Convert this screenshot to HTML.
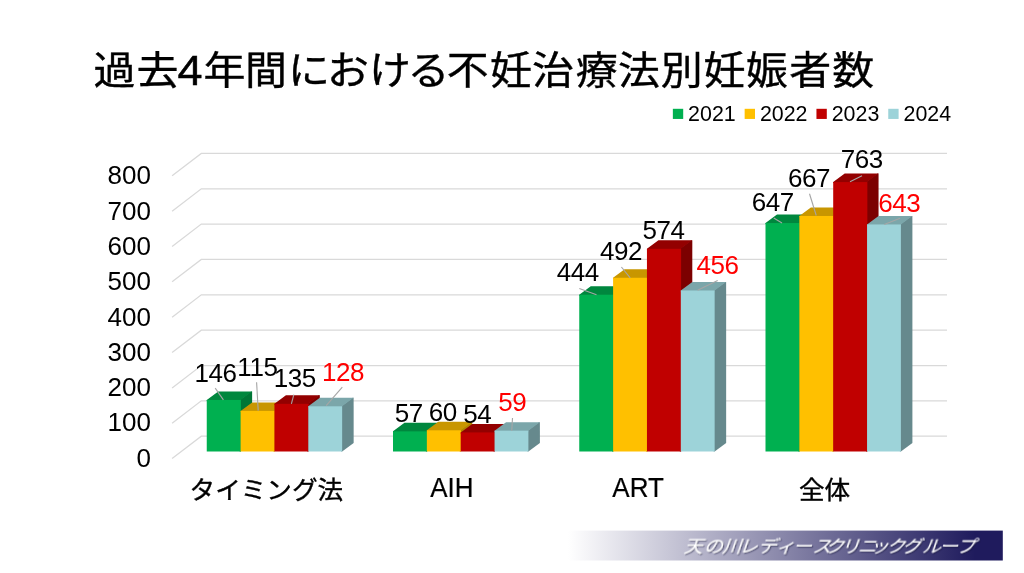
<!DOCTYPE html><html lang="ja"><head><meta charset="utf-8"><title>過去4年間における不妊治療法別妊娠者数</title>
<style>html,body{margin:0;padding:0;background:#fff}body{width:1024px;height:573px;overflow:hidden;position:relative;font-family:"Liberation Sans","Noto Sans CJK JP",sans-serif}svg{position:absolute;left:0;top:0;display:block}text{font-family:"Liberation Sans","Noto Sans CJK JP",sans-serif}</style></head><body>
<svg width="1024" height="573" viewBox="0 0 1024 573">
<defs><linearGradient id="bg" gradientUnits="userSpaceOnUse" x1="568" y1="0" x2="975" y2="0"><stop offset="0" stop-color="#ffffff"/><stop offset="1" stop-color="#1f1b5d"/></linearGradient><filter id="sh" x="-5%" y="-20%" width="110%" height="150%"><feDropShadow dx="1.2" dy="1.3" stdDeviation="0.5" flood-color="#15153a" flood-opacity="0.55"/></filter></defs>
<rect width="1024" height="573" fill="#fff"/>
<text transform="translate(0,84.4) scale(1,0.93)" y="0" font-size="42" fill="#000" stroke="#000" stroke-width="0.4"><tspan x="93.6 136.6">過去</tspan><tspan x="177.6" y="0.2" font-size="45" stroke-width="0.5">4</tspan><tspan x="203.4 245.1 287.9 327.0 368.9 407.5 446.7 490.0 532.0 575.7 618.0 660.8 703.6 746.0 789.2 832.3" y="0">年間における不妊治療法別妊娠者数</tspan></text>
<rect x="672.85" y="108.8" width="10.35" height="10.15" fill="#00B050"/>
<text x="688.10" y="120.7" font-size="21.4" fill="#000">2021</text>
<rect x="744.65" y="108.8" width="10.35" height="10.15" fill="#FFC000"/>
<text x="759.90" y="120.7" font-size="21.4" fill="#000">2022</text>
<rect x="816.45" y="108.8" width="10.35" height="10.15" fill="#C00000"/>
<text x="831.70" y="120.7" font-size="21.4" fill="#000">2023</text>
<rect x="888.25" y="108.8" width="10.35" height="10.15" fill="#9DD3D9"/>
<text x="903.50" y="120.7" font-size="21.4" fill="#000">2024</text>
<path d="M172.1 458.60L201.3 436.20H947M172.1 423.25L201.3 400.85H947M172.1 387.90L201.3 365.50H947M172.1 352.55L201.3 330.15H947M172.1 317.20L201.3 294.80H947M172.1 281.85L201.3 259.45H947M172.1 246.50L201.3 224.10H947M172.1 211.15L201.3 188.75H947M172.1 175.80L201.3 153.40H947" fill="none" stroke="#D9D9D9" stroke-width="1.25"/>
<text x="150.9" y="466.70" font-size="26" text-anchor="end" fill="#000">0</text>
<text x="150.9" y="431.42" font-size="26" text-anchor="end" fill="#000">100</text>
<text x="150.9" y="396.14" font-size="26" text-anchor="end" fill="#000">200</text>
<text x="150.9" y="360.86" font-size="26" text-anchor="end" fill="#000">300</text>
<text x="150.9" y="325.58" font-size="26" text-anchor="end" fill="#000">400</text>
<text x="150.9" y="290.30" font-size="26" text-anchor="end" fill="#000">500</text>
<text x="150.9" y="255.02" font-size="26" text-anchor="end" fill="#000">600</text>
<text x="150.9" y="219.74" font-size="26" text-anchor="end" fill="#000">700</text>
<text x="150.9" y="184.46" font-size="26" text-anchor="end" fill="#000">800</text>
<path d="M239.60 451.5H240.60L252.10 443.00V391.45H251.10L239.60 399.95Z" fill="#007636"/>
<path d="M206.75 400.95V399.95L218.25 391.45H252.10L240.60 399.95V400.95Z" fill="#00873E"/>
<rect x="206.75" y="399.95" width="34.15" height="51.55" fill="#00B050"/>
<path d="M273.45 451.5H274.45L285.95 443.00V402.39H284.95L273.45 410.89Z" fill="#B08400"/>
<path d="M240.60 411.89V410.89L252.10 402.39H285.95L274.45 410.89V411.89Z" fill="#C89600"/>
<rect x="240.60" y="410.89" width="34.15" height="40.61" fill="#FFC000"/>
<path d="M307.30 451.5H308.30L319.80 443.00V395.33H318.80L307.30 403.83Z" fill="#7C0000"/>
<path d="M274.45 404.83V403.83L285.95 395.33H319.80L308.30 403.83V404.83Z" fill="#930000"/>
<rect x="274.45" y="403.83" width="34.15" height="47.67" fill="#C00000"/>
<path d="M341.15 451.5H342.15L353.65 443.00V397.80H352.65L341.15 406.30Z" fill="#66898D"/>
<path d="M308.30 407.30V406.30L319.80 397.80H353.65L342.15 406.30V407.30Z" fill="#7BA6AA"/>
<rect x="308.30" y="406.30" width="33.85" height="45.20" fill="#9DD3D9"/>
<path d="M425.85 451.5H426.85L438.35 443.00V422.87H437.35L425.85 431.37Z" fill="#007636"/>
<path d="M393.00 432.37V431.37L404.50 422.87H438.35L426.85 431.37V432.37Z" fill="#00873E"/>
<rect x="393.00" y="431.37" width="34.15" height="20.13" fill="#00B050"/>
<path d="M459.70 451.5H460.70L472.20 443.00V421.81H471.20L459.70 430.31Z" fill="#B08400"/>
<path d="M426.85 431.31V430.31L438.35 421.81H472.20L460.70 430.31V431.31Z" fill="#C89600"/>
<rect x="426.85" y="430.31" width="34.15" height="21.19" fill="#FFC000"/>
<path d="M493.55 451.5H494.55L506.05 443.00V423.93H505.05L493.55 432.43Z" fill="#7C0000"/>
<path d="M460.70 433.43V432.43L472.20 423.93H506.05L494.55 432.43V433.43Z" fill="#930000"/>
<rect x="460.70" y="432.43" width="34.15" height="19.07" fill="#C00000"/>
<path d="M527.40 451.5H528.40L539.90 443.00V422.17H538.90L527.40 430.67Z" fill="#66898D"/>
<path d="M494.55 431.67V430.67L506.05 422.17H539.90L528.40 430.67V431.67Z" fill="#7BA6AA"/>
<rect x="494.55" y="430.67" width="33.85" height="20.83" fill="#9DD3D9"/>
<path d="M612.10 451.5H613.10L624.60 443.00V286.22H623.60L612.10 294.72Z" fill="#007636"/>
<path d="M579.25 295.72V294.72L590.75 286.22H624.60L613.10 294.72V295.72Z" fill="#00873E"/>
<rect x="579.25" y="294.72" width="34.15" height="156.78" fill="#00B050"/>
<path d="M645.95 451.5H646.95L658.45 443.00V269.27H657.45L645.95 277.77Z" fill="#B08400"/>
<path d="M613.10 278.77V277.77L624.60 269.27H658.45L646.95 277.77V278.77Z" fill="#C89600"/>
<rect x="613.10" y="277.77" width="34.15" height="173.73" fill="#FFC000"/>
<path d="M679.80 451.5H680.80L692.30 443.00V240.32H691.30L679.80 248.82Z" fill="#7C0000"/>
<path d="M646.95 249.82V248.82L658.45 240.32H692.30L680.80 248.82V249.82Z" fill="#930000"/>
<rect x="646.95" y="248.82" width="34.15" height="202.68" fill="#C00000"/>
<path d="M713.65 451.5H714.65L726.15 443.00V281.99H725.15L713.65 290.49Z" fill="#66898D"/>
<path d="M680.80 291.49V290.49L692.30 281.99H726.15L714.65 290.49V291.49Z" fill="#7BA6AA"/>
<rect x="680.80" y="290.49" width="33.85" height="161.01" fill="#9DD3D9"/>
<path d="M798.35 451.5H799.35L810.85 443.00V214.54H809.85L798.35 223.04Z" fill="#007636"/>
<path d="M765.50 224.04V223.04L777.00 214.54H810.85L799.35 223.04V224.04Z" fill="#00873E"/>
<rect x="765.50" y="223.04" width="34.15" height="228.46" fill="#00B050"/>
<path d="M832.20 451.5H833.20L844.70 443.00V207.48H843.70L832.20 215.98Z" fill="#B08400"/>
<path d="M799.35 216.98V215.98L810.85 207.48H844.70L833.20 215.98V216.98Z" fill="#C89600"/>
<rect x="799.35" y="215.98" width="34.15" height="235.52" fill="#FFC000"/>
<path d="M866.05 451.5H867.05L878.55 443.00V173.58H877.55L866.05 182.08Z" fill="#7C0000"/>
<path d="M833.20 183.08V182.08L844.70 173.58H878.55L867.05 182.08V183.08Z" fill="#930000"/>
<rect x="833.20" y="182.08" width="34.15" height="269.42" fill="#C00000"/>
<path d="M899.90 451.5H900.90L912.40 443.00V215.96H911.40L899.90 224.46Z" fill="#66898D"/>
<path d="M867.05 225.46V224.46L878.55 215.96H912.40L900.90 224.46V225.46Z" fill="#7BA6AA"/>
<rect x="867.05" y="224.46" width="33.85" height="227.04" fill="#9DD3D9"/>
<line x1="215.2" y1="388.1" x2="223.4" y2="399.9" stroke="#A6A6A6" stroke-width="1.1"/>
<line x1="256.6" y1="382.3" x2="258.2" y2="410.6" stroke="#A6A6A6" stroke-width="1.1"/>
<line x1="293.8" y1="394.6" x2="291.4" y2="403.8" stroke="#A6A6A6" stroke-width="1.1"/>
<line x1="342.3" y1="387.1" x2="326.2" y2="405.7" stroke="#A6A6A6" stroke-width="1.1"/>
<line x1="512.5" y1="418" x2="511.75" y2="430.75" stroke="#A6A6A6" stroke-width="1.1"/>
<line x1="579.3" y1="288.4" x2="596.5" y2="294.8" stroke="#A6A6A6" stroke-width="1.1"/>
<line x1="621.4" y1="267" x2="630.2" y2="277.8" stroke="#A6A6A6" stroke-width="1.1"/>
<line x1="717.7" y1="280.5" x2="697.6" y2="290.3" stroke="#A6A6A6" stroke-width="1.1"/>
<line x1="773.75" y1="218" x2="782" y2="223" stroke="#A6A6A6" stroke-width="1.1"/>
<line x1="809.5" y1="193.75" x2="816.25" y2="215.5" stroke="#A6A6A6" stroke-width="1.1"/>
<line x1="862" y1="175.75" x2="850" y2="181.75" stroke="#A6A6A6" stroke-width="1.1"/>
<line x1="900" y1="218.25" x2="884.25" y2="224.5" stroke="#A6A6A6" stroke-width="1.1"/>
<text x="194.59" y="381.60" font-size="26" letter-spacing="-0.45" fill="#000">146</text>
<text x="237.34" y="375.70" font-size="26" letter-spacing="-0.45" fill="#000">115</text>
<text x="273.79" y="387.40" font-size="26" letter-spacing="-0.45" fill="#000">135</text>
<text x="321.94" y="380.70" font-size="26" letter-spacing="-0.45" fill="#FF0000">128</text>
<text x="394.85" y="421.55" font-size="26" letter-spacing="-0.45" fill="#000">57</text>
<text x="428.85" y="421.30" font-size="26" letter-spacing="-0.45" fill="#000">60</text>
<text x="463.22" y="422.80" font-size="26" letter-spacing="-0.45" fill="#000">54</text>
<text x="498.35" y="411.05" font-size="26" letter-spacing="-0.45" fill="#FF0000">59</text>
<text x="556.79" y="281.00" font-size="26" letter-spacing="-0.45" fill="#000">444</text>
<text x="600.09" y="260.30" font-size="26" letter-spacing="-0.45" fill="#000">492</text>
<text x="642.44" y="239.00" font-size="26" letter-spacing="-0.45" fill="#000">574</text>
<text x="696.59" y="274.20" font-size="26" letter-spacing="-0.45" fill="#FF0000">456</text>
<text x="751.82" y="210.80" font-size="26" letter-spacing="-0.45" fill="#000">647</text>
<text x="788.07" y="187.05" font-size="26" letter-spacing="-0.45" fill="#000">667</text>
<text x="840.82" y="168.30" font-size="26" letter-spacing="-0.45" fill="#000">763</text>
<text x="878.32" y="211.55" font-size="26" letter-spacing="-0.45" fill="#FF0000">643</text>
<text transform="translate(266.32,499.2) scale(0.985,0.94)" x="0" y="0" font-size="26" text-anchor="middle" fill="#000" stroke="#000" stroke-width="0.4">タイミング法</text>
<text transform="translate(451.88,496.9) scale(1,1.04)" x="0" y="0" font-size="26" text-anchor="middle" fill="#000" stroke="#000" stroke-width="0.2">AIH</text>
<text transform="translate(638.12,496.9) scale(1,1.04)" x="0" y="0" font-size="26" text-anchor="middle" fill="#000" stroke="#000" stroke-width="0.2">ART</text>
<text transform="translate(824.48,499.2) scale(0.985,0.94)" x="0" y="0" font-size="26" text-anchor="middle" fill="#000" stroke="#000" stroke-width="0.4">全体</text>
<rect x="566" y="530.6" width="436.8" height="29.9" fill="url(#bg)"/>
<text transform="translate(-0.6,552.5) skewX(-5) scale(1,0.93)" x="683.9 704.1 722.5 739.1 758.0 776.1 793.1 812.6 825.6 841.0 857.9 870.0 886.5 902.4 922.2 939.2 956.4" y="0" font-size="19" font-style="italic" fill="#fff" filter="url(#sh)">天の川レディースクリニックグループ</text>
</svg></body></html>
